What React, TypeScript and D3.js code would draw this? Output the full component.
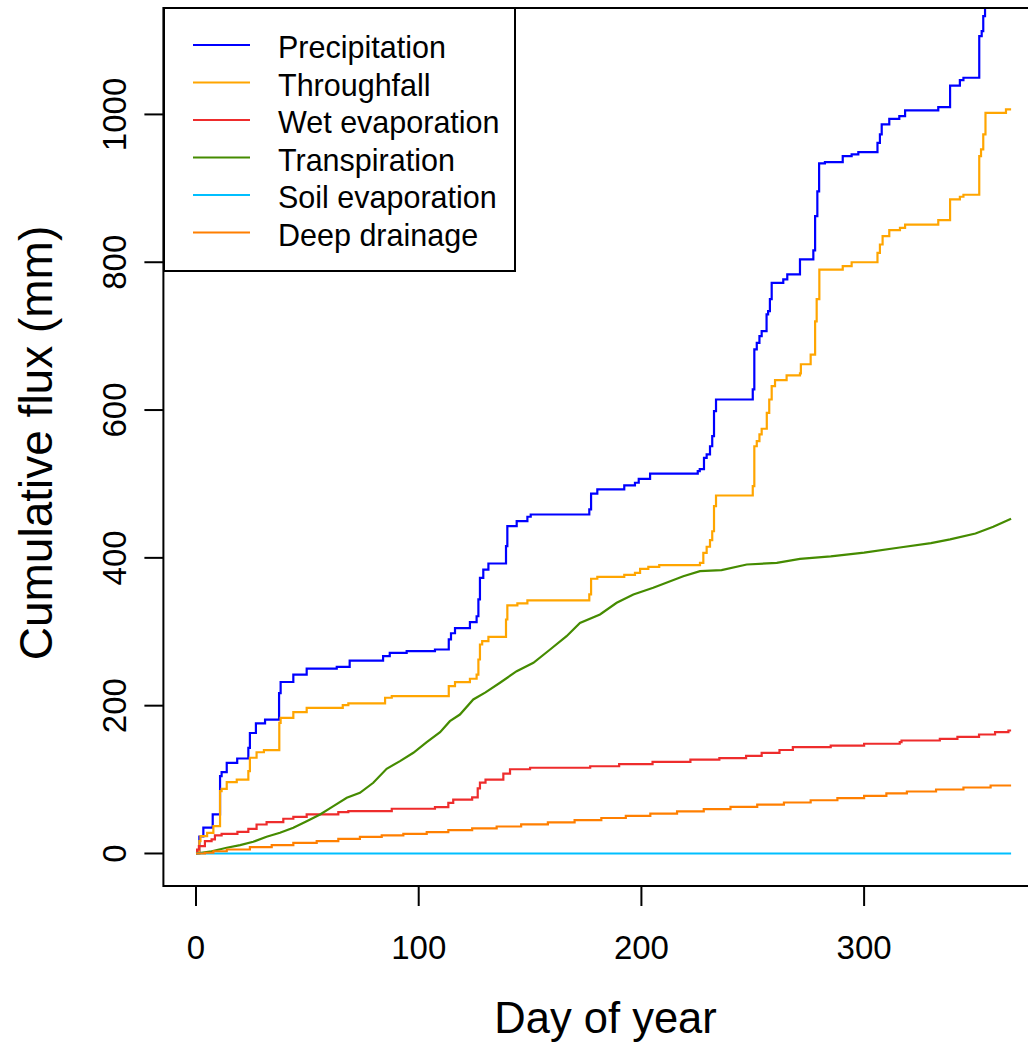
import React from "react";
import * as d3 from "d3";

// Cumulative daily water fluxes over one year (mm), as step series: [day, cumulative value after the step]
const precipDays = [0, 1.5, 3.3, 7.5, 10.8, 11.5, 13.8, 18.5, 23.5, 24.2, 26.9, 31, 37.3, 38, 43.7, 49.7, 63.2, 69, 84, 87, 94.6, 107.3, 113.5, 114.5, 116.3, 123, 126, 126.8, 127.5, 129, 131.3, 139.2, 139.8, 144, 148.8, 150.3, 176.6, 177.4, 180.2, 192.3, 197.1, 198.8, 203.9, 225.3, 226.2, 228.1, 229.3, 230.8, 231.8, 232.6, 233.5, 250, 250.7, 251.8, 253, 254, 256.2, 256.9, 257.7, 258.5, 263.7, 265.5, 271.2, 277.2, 278, 279, 279.8, 282.4, 290.4, 294.4, 297.4, 306, 307.1, 307.9, 311.3, 315.8, 318.4, 333.3, 338.6, 343, 344.6, 351.7, 352.8, 353.5, 354.3, 366];
const precipVals = [0, 23, 35, 53, 104.6, 110, 122.7, 128.5, 143, 163, 176, 181, 217, 232, 242, 250, 252.6, 261, 267, 271.5, 273.7, 276, 289.6, 298, 305, 313, 321, 343.7, 373, 384, 392.4, 415.8, 443, 449.6, 455.6, 458.7, 465.5, 487, 492.6, 498, 501.6, 507, 514, 517.3, 520, 535.4, 540, 551, 564.7, 598.5, 614.3, 628, 682, 691, 700, 706.8, 729.4, 733.8, 750, 772, 776.7, 783.5, 803.8, 816, 862.4, 896, 933.7, 935.5, 943.6, 946, 949, 961.6, 972.9, 986.5, 994, 997.7, 1005.4, 1010, 1039, 1046.4, 1049.6, 1106, 1112.7, 1133, 1170, 1170];

const throughDays = [0, 1.5, 2, 5, 7.8, 10.8, 11.5, 13.8, 18.3, 23.5, 24.2, 27.2, 30.5, 37.4, 38, 43.7, 49.7, 65.9, 68.4, 84.9, 87.9, 113.5, 116.3, 123, 126, 126.8, 127.5, 128.5, 131.3, 139.2, 139.8, 144.3, 148.8, 176.6, 177.4, 180.2, 192.3, 197.1, 199.4, 203.1, 208, 226.3, 227.8, 229.3, 230.8, 231.8, 232.6, 233.5, 250, 250.7, 251.8, 253, 254, 256.3, 257.4, 258.5, 260, 265.2, 271.2, 271.6, 276, 278, 278.7, 279.9, 290.4, 294.4, 306, 307.1, 308.3, 311.3, 316.1, 318.4, 333.3, 338.6, 343, 344.6, 351.7, 352.5, 353.5, 354.5, 363.7, 366];
const throughVals = [0, 16.6, 23.4, 28, 37, 84.3, 87.5, 96.5, 100, 111.4, 129.5, 137, 139.8, 176.8, 183.6, 191.2, 197, 200.7, 203, 210.7, 212.9, 226.4, 231.8, 236.4, 242, 262.5, 282.8, 287.3, 293.2, 316.6, 335.6, 338.3, 342.4, 350.5, 371.7, 374.4, 377, 379.7, 385.1, 387.8, 390.1, 393.2, 406.8, 415, 424, 436, 470, 484.4, 497, 551, 558, 567, 574.7, 596.3, 614.3, 632.3, 640.5, 646.8, 649.5, 662, 675, 720, 750, 790, 794.7, 800, 812.8, 824, 835.3, 843.4, 846.5, 851, 857, 885, 888.6, 891.3, 943.6, 952.6, 972.9, 1002, 1006.8, 1006.8];

const wetEvapDays = [0, 0.5, 1.3, 4, 7, 8.5, 11.5, 18.6, 23.5, 27.2, 31.7, 39.2, 43.7, 49.7, 63.9, 68.4, 87.9, 107.3, 113.3, 115.5, 124, 126.5, 127.5, 130, 138, 141, 150, 177, 190, 205, 222, 235, 247, 254, 262, 268, 285, 300, 316, 316.8, 334, 341.9, 351.6, 358.8, 364.8, 366];
const wetEvapVals = [0, 5.4, 9.9, 16.6, 19, 24.4, 26.6, 29.3, 33.4, 39.2, 42.4, 47, 49.6, 52.8, 55.9, 57.3, 60.5, 62.7, 68.5, 73, 76, 88, 96, 100, 108, 114, 116, 118, 121, 124, 127, 129, 132, 136, 140, 144, 146, 148.5, 150.6, 152.9, 155, 157.9, 161, 164.1, 166.4, 166.4];

const transpDays = [0, 7, 13.8, 19.8, 25.7, 31.7, 37.7, 43.7, 49.7, 55.7, 61.7, 67.7, 73.6, 79.6, 85.6, 91.6, 97.6, 103.6, 109.6, 114, 118.5, 124.5, 130, 136.5, 144, 151.5, 159, 166.4, 172.4, 181.4, 188.9, 196.4, 205.3, 218.8, 226.3, 236, 247.3, 260.8, 271.2, 285, 300, 316, 330, 338.6, 350, 358, 366];
const transpVals = [0, 3, 7.7, 11.3, 15.8, 22.6, 28, 34.8, 43.7, 52.8, 64, 75.3, 82, 95.7, 114.6, 125, 136.3, 150.6, 164.1, 179, 188, 208.4, 218, 231, 246.7, 258, 276, 294, 312, 323.4, 339.2, 350.5, 359.5, 375.2, 382, 383.4, 391, 393.3, 398.6, 402, 407, 414, 420, 425, 433, 442, 453];

const soilEvapDays = [0, 366];
const soilEvapVals = [0, 0];

const drainDays = [0, 4, 7.8, 13.8, 24.2, 34, 43.7, 54.2, 63.9, 73.6, 83.4, 93.1, 103.6, 113.3, 124, 135, 146, 158, 170, 182, 193, 204, 216, 228, 240, 252, 264, 276, 288, 300, 310, 319.2, 332.3, 344.6, 356.8, 366];
const drainVals = [0, 1, 3, 5.4, 8.6, 11.3, 14.4, 16.6, 19.8, 22.6, 24.4, 26.6, 28.8, 31.5, 34, 36.5, 39.5, 42, 45, 48, 51, 54, 57, 60, 63, 66, 69, 72, 75, 78, 81.2, 83.9, 86.6, 89.3, 92, 92];

const seriesNames = ["Precipitation", "Throughfall", "Wet evaporation", "Transpiration", "Soil evaporation", "Deep drainage"];
const seriesColors = ["#0000FF", "#FFA500", "#EE2C2C", "#458B00", "#00BFFF", "#FF7F00"];

const xTicks = [0, 100, 200, 300];
const yTicks = [0, 200, 400, 600, 800, 1000];

const FONT = "'Liberation Sans', Arial, Helvetica, sans-serif";

export default function App() {
  const W = 1028;
  const H = 1043;
  const x = d3.scaleLinear().domain([-14.64, 380.64]).range([163.4, 1043.7]);
  const y = d3.scaleLinear().domain([-44, 1144]).range([886, 8]);

  const series = [
    { days: precipDays, vals: precipVals, step: true },
    { days: throughDays, vals: throughVals, step: true },
    { days: wetEvapDays, vals: wetEvapVals, step: true },
    { days: transpDays, vals: transpVals, step: false },
    { days: soilEvapDays, vals: soilEvapVals, step: false },
    { days: drainDays, vals: drainVals, step: true },
  ];

  const makePath = (s: { days: number[]; vals: number[]; step: boolean }) => {
    const pts: [number, number][] = s.days.map((d, i) => [d, s.vals[i]]);
    const gen = d3
      .line<[number, number]>()
      .x((p) => x(p[0]))
      .y((p) => y(p[1]))
      .curve(s.step ? d3.curveStepAfter : d3.curveLinear);
    return gen(pts) || "";
  };

  const [x0, x1] = x.range();
  const [yb, yt] = y.range();

  // legend layout
  const legX0 = 164, legY0 = 8, legX1 = 515, legY1 = 271;
  const rowY = (i: number) => 45 + i * 37.5;

  return (
    <div style={{ position: "absolute", left: 0, top: 0 }}>
      <svg width={W} height={H} viewBox={`0 0 ${W} ${H}`} style={{ display: "block", background: "#fff" }}>
        <defs>
          <clipPath id="plotArea">
            <rect x={x0} y={yt} width={x1 - x0} height={yb - yt} />
          </clipPath>
        </defs>
        <rect x={0} y={0} width={W} height={H} fill="#fff" />

        <g clipPath="url(#plotArea)" fill="none" strokeWidth={2.2}>
          {series.map((s, i) => (
            <path key={seriesNames[i]} d={makePath(s)} stroke={seriesColors[i]} strokeLinejoin="miter" />
          ))}
        </g>

        {/* plot box */}
        <rect x={x0} y={yt} width={x1 - x0} height={yb - yt} fill="none" stroke="#000" strokeWidth={2} />

        {/* x axis */}
        <g stroke="#000" strokeWidth={2}>
          {xTicks.map((t) => (
            <line key={t} x1={x(t)} x2={x(t)} y1={yb} y2={yb + 20} />
          ))}
        </g>
        <g fontFamily={FONT} fontSize={33} fill="#000" textAnchor="middle">
          {xTicks.map((t) => (
            <text key={t} x={x(t)} y={959}>{t}</text>
          ))}
        </g>

        {/* y axis */}
        <g stroke="#000" strokeWidth={2}>
          {yTicks.map((t) => (
            <line key={t} x1={x0} x2={x0 - 19} y1={y(t)} y2={y(t)} />
          ))}
        </g>
        <g fontFamily={FONT} fontSize={33} fill="#000" textAnchor="middle">
          {yTicks.map((t) => (
            <text key={t} transform={`translate(126,${y(t)}) rotate(-90)`}>{t}</text>
          ))}
        </g>

        {/* axis titles */}
        <text x={(x0 + x1) / 2 + 2} y={1033} fontFamily={FONT} fontSize={43.5} textAnchor="middle" fill="#000">
          Day of year
        </text>
        <text transform={`translate(52,443) rotate(-90)`} fontFamily={FONT} fontSize={46} textAnchor="middle" fill="#000">
          Cumulative flux (mm)
        </text>

        {/* legend */}
        <rect x={legX0} y={legY0} width={legX1 - legX0} height={legY1 - legY0} fill="#fff" stroke="#000" strokeWidth={2} />
        {seriesNames.map((name, i) => (
          <g key={name}>
            <line x1={193} x2={250} y1={rowY(i)} y2={rowY(i)} stroke={seriesColors[i]} strokeWidth={2} />
            <text x={278} y={rowY(i) + 13} fontFamily={FONT} fontSize={30.5} fill="#000">
              {name}
            </text>
          </g>
        ))}
      </svg>
    </div>
  );
}
